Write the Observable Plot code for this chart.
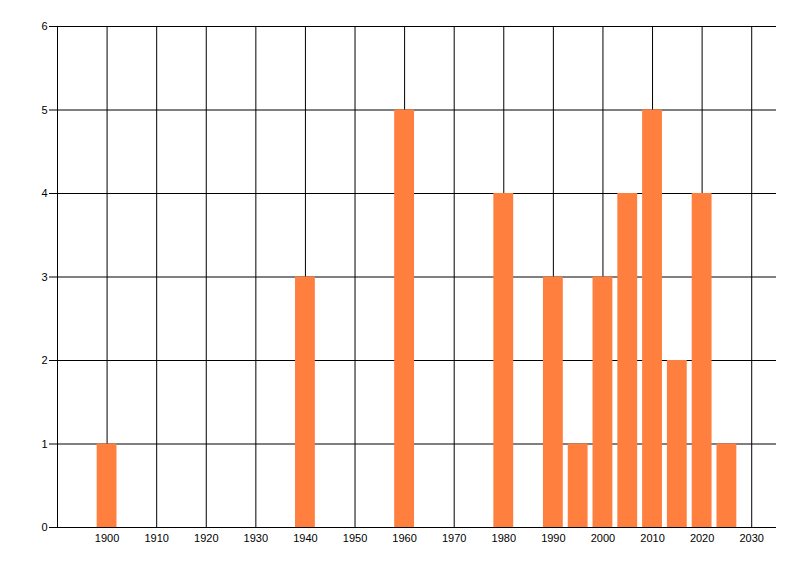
<!DOCTYPE html>
<html>
<head>
<meta charset="utf-8">
<script src="https://cdn.jsdelivr.net/npm/d3@7"></script>
<script src="https://cdn.jsdelivr.net/npm/@observablehq/plot@0.6"></script>
<style>
  html, body { margin: 0; padding: 0; background: #fff; }
  #chart svg { display: block; }
</style>
</head>
<body>
<div id="chart"></div>
<script>
const years = [1900, 1940, 1960, 1980, 1990, 1995, 2000, 2005, 2010, 2015, 2020, 2025];
const counts = [1, 3, 5, 4, 3, 1, 3, 4, 5, 2, 4, 1];
const xTicks = [1900, 1910, 1920, 1930, 1940, 1950, 1960, 1970, 1980, 1990, 2000, 2010, 2020, 2030];
const yTicks = [0, 1, 2, 3, 4, 5, 6];

const data = years.map((y, i) => ({year: y, count: counts[i]}));

const chart = Plot.plot({
  width: 800,
  height: 576,
  marginLeft: 57,
  marginRight: 24,
  marginTop: 26,
  marginBottom: 49,
  style: {fontFamily: "'Liberation Sans', Arial, sans-serif", fontSize: "11px", color: "#000", background: "#fff"},
  x: {domain: [1890, 2035], ticks: xTicks, tickFormat: d => String(d), label: null},
  y: {domain: [0, 6], ticks: yTicks, tickFormat: d => String(d), label: null},
  marks: [
    Plot.ruleX(xTicks, {stroke: "#000", strokeWidth: 1}),
    Plot.ruleY(yTicks, {stroke: "#000", strokeWidth: 1}),
    Plot.ruleX([1890], {stroke: "#000", strokeWidth: 1}),
    Plot.rectY(data, {x1: d => d.year - 2, x2: d => d.year + 2, y: "count", fill: "#FF7F3F", inset: 0}),
    Plot.axisY({ticks: yTicks, tickSize: 8, tickPadding: 2, stroke: "#000", tickFormat: d => String(d), label: null}),
    Plot.axisX({ticks: xTicks, tickSize: 0, tickPadding: 7, tickFormat: d => String(d), label: null})
  ]
});
document.getElementById("chart").appendChild(chart);
</script>
</body>
</html>
